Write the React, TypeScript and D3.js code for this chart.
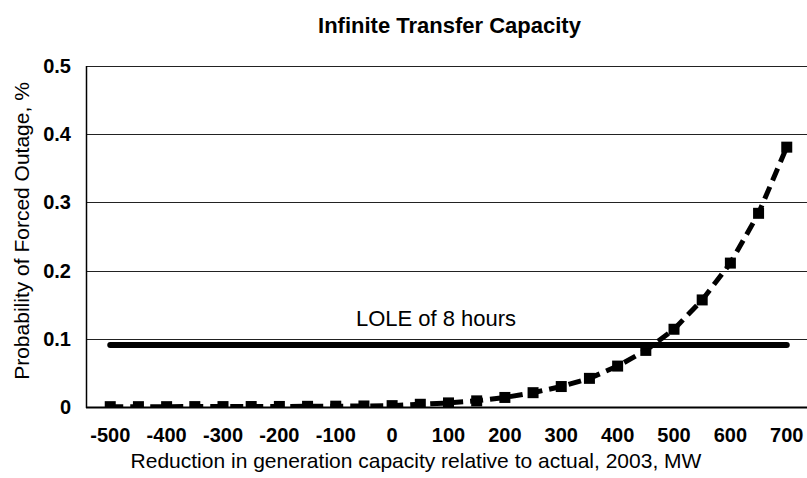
import React, { useEffect, useRef } from 'react';
import * as d3 from 'd3';

// reduction in generation capacity, MW
const reductions = [-500, -450, -400, -350, -300, -250, -200, -150, -100, -50, 0, 50, 100, 150, 200, 250, 300, 350, 400, 450, 500, 550, 600, 650, 700];
// probability of forced outage, %
const probabilities = [0.0005, 0.0005, 0.0005, 0.0006, 0.0006, 0.0007, 0.0008, 0.001, 0.0012, 0.0015, 0.002, 0.004, 0.006, 0.009, 0.014, 0.021, 0.030, 0.042, 0.060, 0.083, 0.114, 0.157, 0.211, 0.284, 0.381];
const loleLevel = 0.091;
const loleLabel = 'LOLE of 8 hours';
const xTicks = [-500, -400, -300, -200, -100, 0, 100, 200, 300, 400, 500, 600, 700];
const yTicks = [0, 0.1, 0.2, 0.3, 0.4, 0.5];

const App = () => {
  const svgRef = useRef<SVGSVGElement>(null);

  useEffect(() => {
    const width = 807;
    const height = 478;
    const left = 86, right = 811, top = 66, bottom = 407;
    const font = 'Liberation Sans, Arial, sans-serif';

    const svg = d3.select(svgRef.current);
    svg.selectAll('*').remove();
    svg.attr('width', width).attr('height', height);

    const x = d3.scaleLinear().domain([-543, 743]).range([left, right]);
    const y = d3.scaleLinear().domain([0, 0.5]).range([bottom, top]);

    svg.append('defs').append('clipPath').attr('id', 'plot-clip')
      .append('rect').attr('x', left).attr('y', top - 10).attr('width', right - left).attr('height', bottom - top + 10);

    // gridlines
    svg.append('g').selectAll('line')
      .data(yTicks.filter(d => d > 0))
      .enter()
      .append('line')
      .attr('x1', left).attr('x2', width)
      .attr('y1', d => Math.round(y(d)) + 0.5).attr('y2', d => Math.round(y(d)) + 0.5)
      .attr('stroke', '#222').attr('stroke-width', 1);

    // y tick labels
    svg.append('g').selectAll('text')
      .data(yTicks)
      .enter()
      .append('text')
      .attr('x', 71).attr('y', d => y(d) + 7)
      .attr('text-anchor', 'end')
      .style('font-family', font).style('font-size', '20px').style('font-weight', 'bold')
      .text(d => (d === 0 ? '0' : d3.format('.1f')(d)));

    // x tick labels
    svg.append('g').selectAll('text')
      .data(xTicks)
      .enter()
      .append('text')
      .attr('x', d => x(d)).attr('y', 442)
      .attr('text-anchor', 'middle')
      .style('font-family', font).style('font-size', '20px').style('font-weight', 'bold')
      .text(d => String(d));

    // LOLE line
    svg.append('line')
      .attr('x1', x(reductions[0])).attr('x2', x(reductions[reductions.length - 1]))
      .attr('y1', y(loleLevel)).attr('y2', y(loleLevel))
      .attr('stroke', '#000').attr('stroke-width', 6).attr('stroke-linecap', 'round');

    svg.append('text')
      .attr('x', 436).attr('y', 326)
      .attr('text-anchor', 'middle')
      .style('font-family', font).style('font-size', '22px')
      .text(loleLabel);

    // probability series
    const pts = reductions.map((r, i) => ({ r, p: probabilities[i] }));
    const line = d3.line<{ r: number; p: number }>().x(d => x(d.r)).y(d => y(d.p));
    const series = svg.append('g').attr('clip-path', 'url(#plot-clip)');
    series.append('path')
      .datum(pts)
      .attr('d', line)
      .attr('fill', 'none')
      .attr('stroke', '#000')
      .attr('stroke-width', 5)
      .attr('stroke-dasharray', '13,7');
    series.selectAll('rect')
      .data(pts)
      .enter()
      .append('rect')
      .attr('x', d => x(d.r) - 5.5).attr('y', d => y(d.p) - 5.5)
      .attr('width', 11).attr('height', 11)
      .attr('fill', '#000');

    // axes
    svg.append('line')
      .attr('x1', left + 0.5).attr('x2', left + 0.5).attr('y1', top).attr('y2', bottom + 1)
      .attr('stroke', '#000').attr('stroke-width', 1.5);
    svg.append('line')
      .attr('x1', left).attr('x2', width).attr('y1', bottom + 0.5).attr('y2', bottom + 0.5)
      .attr('stroke', '#000').attr('stroke-width', 2);

    // titles
    svg.append('text')
      .attr('x', 449.5).attr('y', 33)
      .attr('text-anchor', 'middle')
      .style('font-family', font).style('font-size', '22px').style('font-weight', 'bold')
      .text('Infinite Transfer Capacity');

    svg.append('text')
      .attr('x', 416).attr('y', 468)
      .attr('text-anchor', 'middle')
      .style('font-family', font).style('font-size', '21px')
      .text('Reduction in generation capacity relative to actual, 2003, MW');

    svg.append('text')
      .attr('transform', 'rotate(-90)')
      .attr('x', -231).attr('y', 29)
      .attr('text-anchor', 'middle')
      .style('font-family', font).style('font-size', '21px')
      .text('Probability of Forced Outage, %');
  }, []);

  return (
    <div style={{ position: 'absolute', left: 0, top: 0 }}>
      <svg ref={svgRef}></svg>
    </div>
  );
};

export default App;
